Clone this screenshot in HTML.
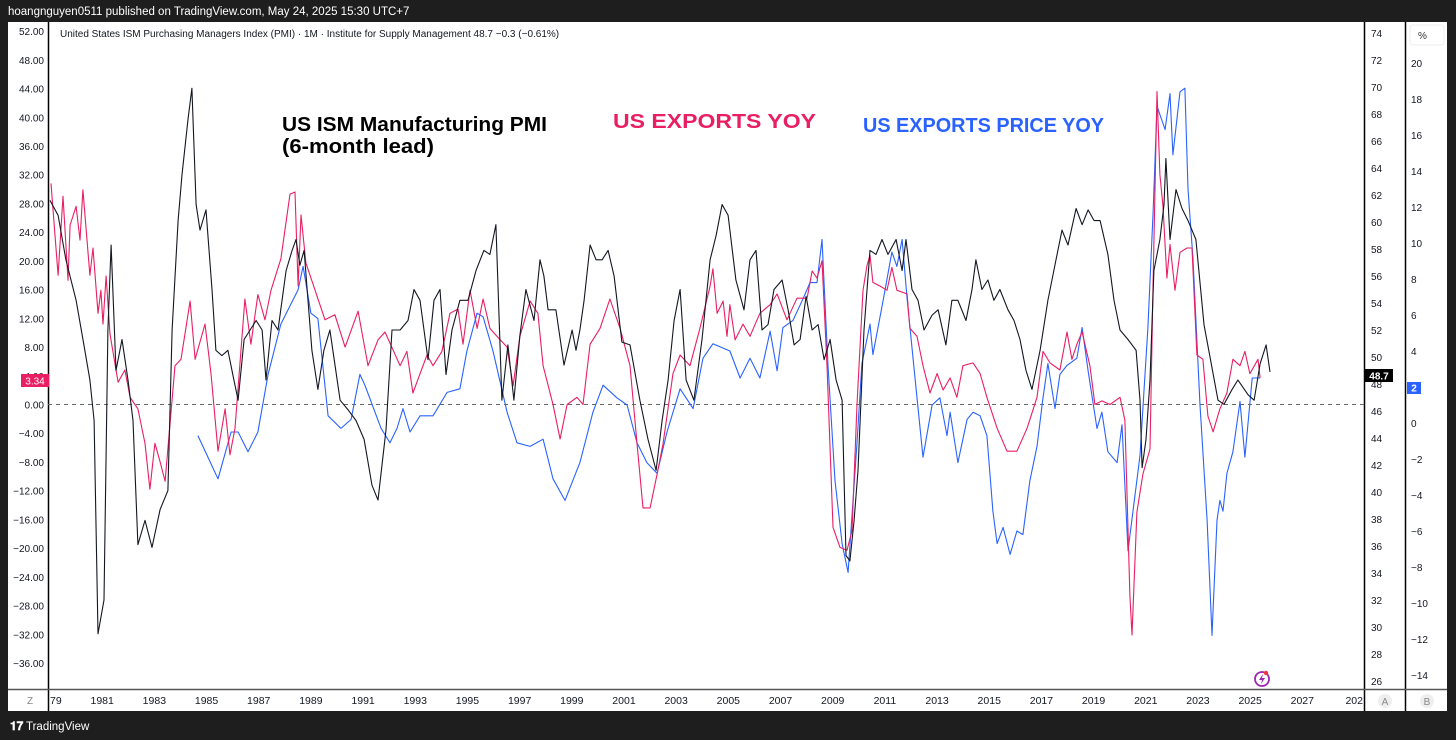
<!DOCTYPE html>
<html><head><meta charset="utf-8">
<style>
html,body{margin:0;padding:0;background:#1e1e1e;}
body{width:1456px;height:740px;overflow:hidden;font-family:"Liberation Sans",sans-serif;}
svg{display:block}
</style></head>
<body>
<svg id="chart" width="1456" height="740" xmlns="http://www.w3.org/2000/svg" font-family="Liberation Sans, sans-serif">
  <rect x="0" y="0" width="1456" height="740" fill="#1e1e1e"/>
  <text x="8" y="15" fill="#ffffff" font-size="11.5">hoangnguyen0511 published on TradingView.com, May 24, 2025 15:30 UTC+7</text>
  <rect x="8" y="22" width="1439" height="689" fill="#ffffff"/>
  <line x1="48.5" y1="22" x2="48.5" y2="711" stroke="#000" stroke-width="1.5"/>
  <line x1="1364.5" y1="22" x2="1364.5" y2="711" stroke="#000" stroke-width="1.5"/>
  <line x1="1405.5" y1="22" x2="1405.5" y2="711" stroke="#000" stroke-width="1.5"/>
  <line x1="8" y1="689.5" x2="1447" y2="689.5" stroke="#555" stroke-width="1.5"/>
  <g id="leftTicks"></g>
  <g id="r1Ticks"></g>
  <g id="r2Ticks"></g>
  <g id="xTicks"></g>
  <text x="60" y="37" font-size="10" fill="#131722">United States ISM Purchasing Managers Index (PMI) · 1M · Institute for Supply Management  48.7  −0.3 (−0.61%)</text>
  <line x1="48" y1="404.5" x2="1364" y2="404.5" stroke="#666" stroke-dasharray="4,4" stroke-width="1"/>
  <clipPath id="plotclip"><rect x="49" y="22" width="1315" height="667"/></clipPath>
  <g id="series" clip-path="url(#plotclip)"></g>
  <text x="282" y="131" font-size="20" font-weight="bold" fill="#000" textLength="265" lengthAdjust="spacingAndGlyphs">US ISM Manufacturing PMI</text>
  <text x="282" y="153" font-size="20" font-weight="bold" fill="#000" textLength="152" lengthAdjust="spacingAndGlyphs">(6-month lead)</text>
  <text x="613" y="128" font-size="20" font-weight="bold" fill="#e91e63" textLength="203" lengthAdjust="spacingAndGlyphs">US EXPORTS YOY</text>
  <text x="863" y="132" font-size="20" font-weight="bold" fill="#2962ff" textLength="241" lengthAdjust="spacingAndGlyphs">US EXPORTS PRICE YOY</text>
  <circle cx="1262" cy="679" r="7" fill="none" stroke="#9c27b0" stroke-width="1.8"/>
  <path d="M1263 674 L1259 680 L1262 680 L1261 684 L1265 678 L1262 678 Z" fill="#9c27b0"/>
  <circle cx="1266" cy="673" r="2.2" fill="#f23645"/>
  <text x="30" y="704" font-size="10" fill="#888" text-anchor="middle">Z</text>
  <circle cx="1385" cy="701" r="7" fill="#eee"/>
  <text x="1385" y="705" font-size="10" fill="#888" text-anchor="middle">A</text>
  <circle cx="1427" cy="701" r="7" fill="#eee"/>
  <text x="1427" y="705" font-size="10" fill="#888" text-anchor="middle">B</text>
  <rect x="1410" y="25" width="34" height="20" rx="3" fill="#fff" stroke="#eee"/>
  <text x="1418" y="39" font-size="10" fill="#333">%</text>
  <text x="10" y="730" font-size="12" fill="#fff" font-weight="bold">𝟏𝟕</text>
  <text x="26" y="730" font-size="11.5" fill="#fff">TradingView</text>
</svg>
<script>
const blackYears=[1979.00,1979.31,1979.61,1980.00,1980.30,1980.53,1980.69,1980.84,1981.07,1981.22,1981.34,1981.53,1981.76,1981.99,1982.18,1982.37,1982.64,1982.91,1983.22,1983.52,1983.68,1983.91,1984.06,1984.29,1984.44,1984.60,1984.75,1984.98,1985.21,1985.36,1985.59,1985.82,1986.05,1986.21,1986.44,1986.67,1986.90,1987.13,1987.28,1987.51,1987.74,1988.05,1988.28,1988.43,1988.58,1988.74,1988.89,1989.04,1989.27,1989.50,1989.73,1990.12,1990.42,1990.73,1991.04,1991.34,1991.57,1991.88,1992.11,1992.42,1992.72,1992.95,1993.18,1993.49,1993.72,1993.95,1994.18,1994.41,1994.71,1995.02,1995.33,1995.63,1995.86,1996.09,1996.32,1996.55,1996.78,1997.01,1997.24,1997.55,1997.78,1997.93,1998.09,1998.39,1998.70,1999.01,1999.16,1999.31,1999.47,1999.70,1999.93,2000.16,2000.39,2000.62,2000.92,2001.23,2001.61,2001.92,2002.23,2002.46,2002.69,2002.92,2003.15,2003.38,2003.68,2003.99,2004.30,2004.53,2004.76,2004.99,2005.29,2005.60,2005.83,2006.06,2006.29,2006.52,2006.75,2007.06,2007.29,2007.52,2007.75,2007.98,2008.21,2008.44,2008.67,2008.90,2009.13,2009.36,2009.51,2009.66,2009.82,2009.97,2010.20,2010.43,2010.66,2010.89,2011.12,2011.43,2011.66,2011.81,2012.04,2012.27,2012.50,2012.81,2013.04,2013.34,2013.57,2013.80,2014.11,2014.34,2014.49,2014.72,2014.95,2015.18,2015.41,2015.72,2015.95,2016.18,2016.41,2016.64,2016.95,2017.25,2017.56,2017.79,2018.02,2018.33,2018.56,2018.79,2019.02,2019.25,2019.55,2019.78,2020.01,2020.32,2020.63,2020.78,2020.86,2021.01,2021.16,2021.31,2021.54,2021.70,2021.77,2021.93,2022.16,2022.39,2022.62,2022.92,2023.23,2023.46,2023.77,2024.00,2024.31,2024.53,2024.92,2025.15,2025.38,2025.61,2025.76];
const blackPmi=[61.6,60.5,57.2,54.2,50.9,48.3,45.3,29.5,32.0,52.0,58.3,49.0,51.3,48.3,45.3,36.1,37.9,35.9,38.7,40.1,52.0,60.1,63.5,67.6,69.9,61.3,59.4,60.9,55.0,50.5,50.1,50.5,48.3,46.8,51.3,52.0,52.7,52.0,48.3,52.7,52.0,56.4,57.9,58.7,56.8,57.9,54.2,50.5,47.6,50.5,52.0,46.8,46.1,45.3,43.9,40.5,39.4,44.6,52.0,52.0,52.7,55.0,54.2,49.8,54.2,55.0,48.7,52.0,54.2,54.2,56.4,57.9,57.6,59.8,46.8,50.9,46.8,51.6,55.0,52.7,57.2,56.0,53.5,53.5,49.4,52.0,50.5,52.0,54.2,58.3,57.2,57.2,57.9,56.0,51.1,50.9,46.8,43.9,41.6,45.3,48.3,52.7,55.0,48.3,46.8,51.3,57.2,59.0,61.3,60.5,55.7,53.5,57.2,57.9,52.0,52.4,55.0,55.7,53.5,50.9,51.3,54.5,52.0,52.4,49.8,51.3,48.3,46.8,35.3,34.9,37.9,41.6,52.0,57.9,57.6,58.7,57.6,58.7,56.4,58.7,55.0,54.2,52.0,53.1,53.5,50.9,54.2,54.2,52.7,55.0,57.2,55.0,55.7,54.2,55.0,53.5,52.7,51.3,49.0,47.6,50.5,54.2,57.2,59.4,58.3,61.0,59.8,60.9,60.1,60.1,57.6,54.2,52.0,51.3,50.5,46.8,41.8,43.9,48.3,56.4,58.7,61.3,64.7,58.7,62.4,61.0,60.1,58.7,52.4,50.0,46.8,46.5,47.6,48.3,47.2,46.8,49.5,50.9,48.9];

const redYears=[1979.04,1979.31,1979.50,1979.69,1979.77,1980.00,1980.15,1980.26,1980.53,1980.65,1980.84,1980.95,1981.03,1981.15,1981.30,1981.61,1981.87,1982.07,1982.37,1982.64,1982.83,1983.02,1983.22,1983.41,1983.79,1984.02,1984.37,1984.56,1984.94,1985.17,1985.44,1985.71,1985.90,1986.09,1986.47,1986.70,1986.97,1987.24,1987.47,1987.85,1988.20,1988.39,1988.51,1988.62,1988.81,1989.16,1989.54,1989.92,1990.31,1990.81,1991.19,1991.57,1991.84,1992.42,1992.68,1992.91,1993.45,1993.68,1994.02,1994.33,1994.64,1994.83,1995.10,1995.37,1995.60,1995.86,1996.13,1996.52,1996.75,1997.01,1997.40,1997.70,1997.90,1998.28,1998.55,1998.82,1999.20,1999.43,1999.70,2000.08,2000.46,2000.85,2001.23,2001.50,2001.73,2002.00,2002.27,2002.50,2002.88,2003.15,2003.53,2003.91,2004.30,2004.41,2004.57,2004.80,2004.95,2005.06,2005.26,2005.56,2005.83,2006.21,2006.60,2006.87,2007.25,2007.63,2008.02,2008.21,2008.40,2008.59,2008.78,2009.01,2009.28,2009.55,2009.74,2009.93,2010.16,2010.31,2010.43,2010.54,2010.81,2011.08,2011.27,2011.46,2011.85,2011.96,2012.23,2012.46,2012.73,2013.00,2013.23,2013.50,2013.76,2013.99,2014.38,2014.65,2014.91,2015.30,2015.68,2016.06,2016.45,2016.83,2017.06,2017.33,2017.71,2017.98,2018.17,2018.36,2018.56,2018.86,2019.05,2019.32,2019.63,2020.01,2020.20,2020.39,2020.47,2020.66,2020.89,2021.16,2021.28,2021.43,2021.54,2021.66,2021.81,2021.93,2022.12,2022.31,2022.58,2022.77,2022.96,2023.19,2023.38,2023.58,2023.84,2024.11,2024.34,2024.61,2024.80,2024.99,2025.30,2025.38];
const redExportsYoy=[30.8,18.0,29.0,17.3,25.0,27.6,22.9,29.9,18.0,21.8,12.7,15.9,11.2,17.9,9.8,3.1,4.8,1.0,-0.6,-5.4,-11.8,-5.4,-8.0,-10.7,5.4,6.3,14.4,6.3,11.2,4.3,-6.5,-0.6,-7.0,-3.3,14.7,8.4,15.3,11.8,15.9,20.3,29.3,29.6,16.5,26.4,19.7,15.9,11.8,12.5,8.0,13.0,5.4,9.0,10.1,5.4,7.4,1.6,6.9,5.4,7.4,12.7,13.3,8.4,15.9,10.6,14.7,10.6,9.5,8.0,2.6,9.5,14.4,12.7,5.4,0,-4.8,0,1.0,0,8.4,10.6,14.7,10.6,5.4,-5.4,-14.4,-14.4,-9.7,-5.4,4.3,6.9,5.4,10.6,16.5,18.9,12.7,14.4,9.5,13.9,9.0,11.2,9.5,12.7,13.9,15.4,11.8,14.8,14.8,18.6,17.6,20.0,5.4,-17.1,-19.9,-20.3,-17.6,0,15.9,19.3,20.8,17.0,16.5,15.9,19.1,15.9,15.4,10.6,9.5,5.4,1.6,4.3,2.0,3.7,1.0,5.4,5.8,4.3,1.0,-3.3,-6.5,-6.5,-3.3,1.0,7.4,5.8,4.8,10.1,6.3,8.4,10.1,5.4,0,0.5,0,1.0,-2.2,-26.6,-32.1,-15.0,-9.7,-6.2,17.0,43.6,32.0,27.6,17.6,22.3,15.9,21.2,21.8,21.8,6.9,6.3,-1.6,-3.8,-0.6,1.6,6.3,5.4,7.4,4.3,6.3,3.7];

const blueYears=[1984.67,1985.44,1985.94,1986.21,1986.59,1986.97,1987.36,1987.85,1988.51,1988.70,1989.00,1989.27,1989.66,1990.15,1990.54,1990.88,1991.07,1991.69,1992.03,1992.30,1992.53,1992.80,1993.18,1993.68,1994.22,1994.71,1994.98,1995.37,1995.60,1995.98,1996.52,1996.90,1997.40,1997.90,1998.28,1998.74,1999.31,1999.81,2000.20,2000.73,2001.12,2001.50,2001.88,2002.27,2002.65,2003.15,2003.65,2004.03,2004.41,2005.06,2005.45,2005.83,2006.21,2006.60,2006.87,2007.09,2007.48,2007.86,2008.13,2008.40,2008.59,2008.82,2009.09,2009.36,2009.59,2009.93,2010.12,2010.43,2010.54,2010.93,2011.27,2011.46,2011.66,2011.85,2012.23,2012.46,2012.81,2013.11,2013.38,2013.50,2013.80,2014.15,2014.38,2014.65,2014.91,2015.14,2015.30,2015.53,2015.80,2016.06,2016.29,2016.56,2016.83,2017.06,2017.25,2017.52,2017.71,2017.98,2018.36,2018.56,2018.79,2019.13,2019.32,2019.55,2019.90,2020.09,2020.32,2020.78,2021.08,2021.28,2021.43,2021.74,2021.93,2022.04,2022.31,2022.50,2022.62,2022.81,2023.08,2023.35,2023.54,2023.73,2023.84,2023.96,2024.11,2024.34,2024.61,2024.80,2025.08,2025.38];
const blueExportPriceYoy=[-0.7,-3.1,-0.5,-0.5,-1.6,-0.5,2.7,5.5,7.4,8.7,6.1,5.8,0.4,-0.3,0.2,2.7,2.1,-0.3,-1.1,-0.3,0.8,-0.5,0.4,0.4,1.7,1.9,4.0,6.1,5.9,4.0,0.6,-1.1,-1.3,-0.9,-3.1,-4.3,-2.2,0.6,2.1,1.4,1.0,-1.1,-2.2,-2.8,-0.5,1.9,0.8,3.6,4.4,4.0,2.5,3.6,2.5,5.1,2.9,5.3,5.7,6.9,7.8,7.8,10.2,3.2,-3.2,-6.7,-8.3,-1.1,3.3,5.5,3.8,6.8,9.5,8.7,10.2,6.9,1.4,-1.9,1.0,1.4,-0.7,0.6,-2.2,0.2,0.6,0.4,-0.7,-4.9,-6.7,-5.8,-7.3,-6.0,-6.2,-3.2,-1.3,1.4,3.3,0.8,2.7,3.2,3.6,5.3,2.9,-0.3,0.6,-1.6,-2.2,-0.1,-7.1,-1.8,5.3,11.7,17.6,16.3,18.3,14.9,18.4,18.6,13.0,9.1,1.0,-5.4,-11.8,-5.4,-4.3,-4.9,-2.8,-1.6,1.2,-1.9,2.5,2.5];

const leftTickValues=[52,48,44,40,36,32,28,24,20,16,12,8,4,0,-4,-8,-12,-16,-20,-24,-28,-32,-36];
const pmiTickValues=[74,72,70,68,66,64,62,60,58,56,54,52,50,48,46,44,42,40,38,36,34,32,30,28,26];
const pctTickValues=[20,18,16,14,12,10,8,6,4,2,0,-2,-4,-6,-8,-10,-12,-14];
const xTickYears=[1979,1981,1983,1985,1987,1989,1991,1993,1995,1997,1999,2001,2003,2005,2007,2009,2011,2013,2015,2017,2019,2021,2023,2025,2027,2029];
const xTickLabels=["79","1981","1983","1985","1987","1989","1991","1993","1995","1997","1999","2001","2003","2005","2007","2009","2011","2013","2015","2017","2019","2021","2023","2025","2027","202"];

function xScale(yr){return 50+(yr-1979)*26.09;}
function yLeft(v){return 404.5-v*7.18;}
function yPmi(v){return 33+(74-v)*13.5;}
function yPct(v){return 423-v*18;}

const NS="http://www.w3.org/2000/svg";
function mk(tag,attrs,parent){const e=document.createElementNS(NS,tag);for(const k in attrs)e.setAttribute(k,attrs[k]);parent.appendChild(e);return e;}

const lt=document.getElementById('leftTicks');
leftTickValues.forEach(v=>{
  const t=mk('text',{x:44,y:yLeft(v)+4,'font-size':10,fill:'#131722','text-anchor':'end'},lt);
  
  
  t.textContent=(v<0?'−'+Math.abs(v).toFixed(2):v.toFixed(2));
});
const r1=document.getElementById('r1Ticks');
pmiTickValues.forEach(v=>{
  const t=mk('text',{x:1371,y:yPmi(v)+4,'font-size':10,fill:'#131722'},r1);
  
  
  t.textContent=String(v);
});
const r2=document.getElementById('r2Ticks');
pctTickValues.forEach(v=>{
  const t=mk('text',{x:1411,y:yPct(v)+4,'font-size':10,fill:'#131722'},r2);
  
  
  t.textContent=(v<0?'−'+Math.abs(v):String(v));
});
const xt=document.getElementById('xTicks');
xTickYears.forEach((yr,i)=>{
  let xx=xScale(yr);
  const anchor=i===0?'start':(i===xTickYears.length-1?'end':'middle');
  if(i===xTickYears.length-1)xx=1363;
  const t=mk('text',{x:xx,y:704,'font-size':10.5,fill:'#131722','text-anchor':anchor},xt);
  
  
  t.textContent=xTickLabels[i];
});

const sg=document.getElementById('series');
function line(xs,ys,ysc,color,name){
  let d='';
  for(let i=0;i<xs.length;i++){d+=(i?'L':'M')+xScale(xs[i]).toFixed(1)+' '+ysc(ys[i]).toFixed(1);}
  const p=mk('path',{d:d,fill:'none',stroke:color,'stroke-width':1.1,'stroke-linejoin':'round'},sg);
  
  
}
line(blueYears,blueExportPriceYoy,yPct,'#2962ff','exports-price-yoy-line');
line(redYears,redExportsYoy,yLeft,'#e91e63','exports-yoy-line');
line(blackYears,blackPmi,yPmi,'#131722','ism-pmi-line');

const svg=document.getElementById('chart');
let g=mk('rect',{x:21,y:374,width:28,height:13,fill:'#e91e63'},svg);


let tt=mk('text',{x:35,y:384.5,'font-size':10,fill:'#fff','text-anchor':'middle'},svg);


tt.textContent='3.34';
g=mk('rect',{x:1365,y:369,width:28,height:13,fill:'#000'},svg);


tt=mk('text',{x:1379,y:379.5,'font-size':10,fill:'#fff','text-anchor':'middle','font-weight':'bold'},svg);


tt.textContent='48.7';
g=mk('rect',{x:1407,y:382,width:14,height:12,fill:'#2962ff'},svg);


tt=mk('text',{x:1414,y:391.5,'font-size':10,fill:'#fff','text-anchor':'middle','font-weight':'bold'},svg);


tt.textContent='2';
</script>
</body></html>
